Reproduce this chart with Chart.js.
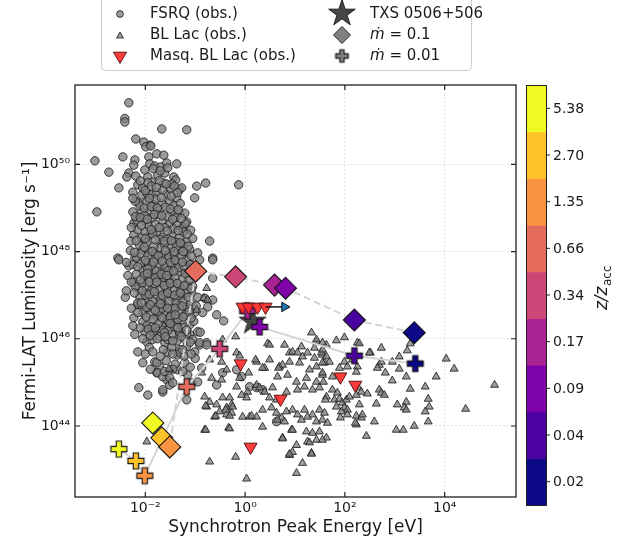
<!DOCTYPE html>
<html>
<head>
<meta charset="utf-8">
<script src="https://cdn.jsdelivr.net/npm/chart.js@4.4.1/dist/chart.umd.min.js"></script>
<style>
  html, body { margin: 0; padding: 0; background: #ffffff; }
  #wrap { width: 630px; height: 545px; position: relative; }
</style>
</head>
<body>
<div id="wrap"><canvas id="chart" width="630" height="545"></canvas></div>
<script>
// ---- axis ranges (log10 units) and tick exponents ----
const xRangeLog = [-3.409, 5.429];
const yRangeLog = [42.372, 51.818];
const xTickExps = [-2, 0, 2, 4];
const yTickExps = [44, 46, 48, 50];

// ---- colour scale: z / z_acc bins (bottom to top) ----
const zTickLabels = ['0.02', '0.04', '0.09', '0.17', '0.34', '0.66', '1.35', '2.70', '5.38'];
const zColors = ['#0d0887', '#4c02a1', '#7e03a8', '#a92395', '#cc4778', '#e56b5d', '#f89441', '#fdc328', '#f0f921'];

// ---- model tracks, one point per z/z_acc bin ----
const modelZ = ['5.38', '2.70', '1.35', '0.66', '0.34', '0.17', '0.09', '0.04', '0.02'];
const mdot01LogE = [-1.85, -1.67, -1.51, -0.99, -0.19, 0.59, 0.81, 2.19, 3.39];
const mdot01LogL = [44.07, 43.73, 43.52, 47.55, 47.42, 47.23, 47.16, 46.43, 46.14];
const mdot001LogE = [-2.53, -2.19, -2.01, -1.17, -0.51, 0.05, 0.29, 2.19, 3.41];
const mdot001LogL = [43.47, 43.20, 42.86, 44.90, 45.77, 46.64, 46.27, 45.61, 45.43];

// ---- TXS 0506+056 ----
const txsLogE = [0.15];
const txsLogL = [46.43];

// ---- masquerading BL Lacs ----
const masqLogE = [-0.05, 0.07, 0.25, 0.41, -0.09, 0.71, 0.11, 1.91, 2.21];
const masqLogL = [46.73, 46.73, 46.73, 46.73, 45.43, 44.62, 43.52, 45.13, 44.94];
// lower limit on the peak energy of one source
const limitLogE = [0.41, 0.79];
const limitLogL = [46.73, 46.73];

// ---- FSRQs: [log10 E_peak, log10 L] ----
const fsrqLog = [
  [-2.33,51.41],[-2.41,51.05],[-2.41,50.97],[-1.67,50.81],[-1.17,50.79],[-2.19,50.58],[-2.03,50.51],[-1.91,50.44],
  [-1.99,50.40],[-1.89,50.42],[-2.45,50.17],[-3.01,50.08],[-2.21,50.10],[-2.23,49.98],[-1.93,50.17],[-1.77,50.24],
  [-1.63,50.21],[-1.91,50.01],[-1.81,49.96],[-1.69,49.94],[-1.57,50.03],[-1.37,50.01],[-2.73,49.82],[-2.33,49.80],
  [-2.37,49.71],[-2.19,49.73],[-2.01,49.87],[-1.95,49.71],[-1.85,49.59],[-1.75,49.75],[-1.61,49.80],[-1.43,49.71],
  [-1.39,49.64],[-1.47,49.55],[-1.63,49.57],[-2.53,49.46],[-0.97,49.50],[-0.79,49.57],[-0.13,49.53],[-1.01,49.23],
  [-2.15,49.53],[-2.05,49.46],[-2.25,49.36],[-2.07,49.30],[-1.97,49.34],[-1.87,49.30],[-1.77,49.36],[-1.57,49.32],
  [-1.31,49.43],[-1.27,49.46],[-2.97,48.91],[-2.13,49.11],[-1.97,49.14],[-1.83,49.07],[-1.67,49.11],[-1.51,49.14],
  [-1.37,49.23],[-2.25,48.91],[-2.07,48.91],[-1.91,48.95],[-1.71,48.95],[-1.47,48.91],[-1.31,48.88],[-1.21,48.88],
  [-2.23,48.65],[-2.17,48.72],[-2.01,48.68],[-1.85,48.77],[-1.65,48.68],[-1.51,48.65],[-1.37,48.61],[-1.17,48.68],
  [-1.09,48.49],[-1.25,48.54],[-2.23,48.38],[-2.29,48.24],[-2.07,48.31],[-1.91,48.38],[-1.77,48.45],[-1.65,48.33],
  [-1.47,48.38],[-1.31,48.33],[-1.17,48.22],[-0.71,48.24],[-2.55,47.85],[-2.21,47.85],[-2.07,48.04],[-1.91,47.99],
  [-1.71,48.08],[-1.51,47.99],[-1.31,48.04],[-1.19,47.97],[-0.95,47.97],[-0.65,47.85],
  [-2.33,47.67],[-2.23,47.30],[-2.13,47.14],[-1.97,47.19],[-1.81,47.23],[-1.65,47.28],[-1.45,47.30],[-1.31,47.19],
  [-1.17,47.23],[-2.17,47.85],[-1.97,47.76],[-1.77,47.81],[-1.57,47.85],[-1.37,47.74],[-1.17,47.81],[-1.05,47.69],
  [-0.91,47.81],[-2.05,47.58],[-1.87,47.53],[-1.67,47.58],[-1.51,47.51],[-1.31,47.53],[-1.15,47.51],[-0.65,47.81],
  [-0.65,47.39],[-2.11,46.96],[-1.95,46.93],[-1.77,47.00],[-1.61,47.05],[-1.47,46.96],[-1.35,46.93],[-1.25,47.00],
  [-1.07,47.05],[-2.15,46.77],[-1.95,46.71],[-1.77,46.73],[-1.61,46.77],[-1.45,46.71],[-1.31,46.77],[-1.15,46.71],
  [-1.01,46.60],[-0.81,46.93],[-0.65,46.89],[-0.75,46.73],[-0.57,46.55],[-0.43,46.41],[-2.23,46.48],[-2.05,46.39],
  [-1.97,46.30],[-1.77,46.51],[-1.57,46.43],[-1.37,46.37],[-1.27,46.43],[-1.11,46.32],[-2.21,46.10],[-2.01,46.16],
  [-1.83,46.16],[-1.65,46.27],[-1.47,46.10],[-1.31,46.14],[-1.11,46.10],[-0.95,46.16],[-0.77,45.91],[-1.97,45.93],
  [-2.15,45.70],[-2.05,45.45],[-1.81,45.47],[-1.71,45.36],[-1.61,45.91],[-1.55,45.70],[-1.35,45.63],[-1.31,45.75],
  [-1.17,45.82],[-1.01,45.70],[-0.91,45.86],[-1.77,45.22],[-1.57,45.06],[-1.35,45.29],[-1.15,45.17],[-0.87,45.33],
  [-1.95,44.71],[-1.65,44.78],[-1.51,44.94],[-1.17,44.60],[-0.57,44.94],
  [-1.85,46.14],[-1.65,46.20],[-1.51,46.27],[-1.31,46.16],[-1.17,46.10],[-1.05,45.98],[-0.91,45.91],[-0.77,45.86],
  [-1.77,45.45],[-1.75,45.22],[-1.65,45.13],[-1.51,45.10],[-1.45,44.99],[-1.65,44.83],[-1.31,45.68],[-1.21,45.45],
  [-1.07,44.99],[-0.95,45.01],[-0.45,45.22],[-0.17,45.29],[-0.07,45.13],[0.09,44.90],[0.23,44.88],[0.35,44.83],
  [0.63,44.10],[-2.13,44.88],[-2.53,47.81],
  [-2.11,49.05],[-1.79,49.20],[-1.60,49.02],[-1.43,49.05],[-2.02,48.83],[-1.74,48.85],[-1.55,48.80],[-1.39,48.78],
  [-1.93,48.58],[-1.80,48.62],[-1.61,48.55],[-1.44,48.52],[-1.24,48.45],[-2.15,48.50],[-2.00,48.45],[-1.85,48.40],
  [-1.70,48.28],[-1.56,48.30],[-1.40,48.22],[-1.25,48.15],[-2.12,48.15],[-1.98,48.20],[-1.83,48.12],[-1.62,48.17],
  [-1.47,48.10],[-1.37,48.12],[-1.11,48.05],[-2.30,48.02],[-2.10,47.95],[-1.95,47.90],[-1.80,47.95],[-1.66,47.92],
  [-1.53,47.88],[-1.41,47.92],[-1.28,47.90],[-2.25,47.70],[-2.10,47.72],[-1.87,47.68],[-1.72,47.70],[-1.60,47.66],
  [-1.47,47.68],[-1.33,47.63],[-1.22,47.66],[-2.03,47.45],[-1.91,47.40],[-1.75,47.44],[-1.62,47.40],[-1.52,47.36],
  [-1.40,47.40],[-1.25,47.38],[-1.12,47.35],[-2.20,47.20],[-2.06,47.28],[-1.88,47.10],[-1.71,47.12],[-1.57,47.17],
  [-1.42,47.10],[-1.28,47.12],[-1.18,47.05],[-2.00,47.00],[-1.86,46.86],[-1.69,46.90],[-1.52,46.85],[-1.38,46.82],
  [-1.24,46.85],[-1.09,46.82],[-2.05,46.60],[-1.90,46.55],[-1.73,46.62],[-1.60,46.58],[-1.48,46.55],[-1.32,46.62],
  [-1.20,46.55],[-2.10,46.25],[-1.87,46.28],[-1.74,46.35],[-1.54,46.20],[-1.42,46.28],[-1.23,46.25],[-1.03,46.40],
  [-1.86,45.98],[-1.70,46.05],[-1.55,45.98],[-1.36,45.95],[-1.20,45.98],[-1.92,45.80],[-1.64,45.75],[-1.47,45.80],
  [-1.22,45.60],[-1.58,45.50],[-1.40,45.42],[-1.10,45.35],[-1.95,49.58],[-1.72,49.62],[-1.50,49.45],[-2.00,49.40],
  [-1.65,49.40],[-2.20,49.15],[-1.30,49.10],[-1.20,48.65],[-2.20,48.80],[-1.05,48.30],[-2.35,47.45],[-1.05,47.20],
  [-0.95,46.95],[-0.85,46.60],[-1.78,47.55],[-1.95,47.60],[-1.55,47.56],[-2.15,46.82],[-1.98,46.72],[-1.66,46.70],
  [-1.35,46.45],[-1.55,46.42],[-2.28,46.70],[-2.40,46.95],[-2.38,47.10],[-0.90,46.15],[-1.00,45.55],
  [-1.84,49.90],[-1.70,49.85],[-1.55,49.92],[-2.10,49.62],[-1.88,49.50],[-1.78,49.47],[-1.58,49.55],[-1.42,49.50],
  [-2.25,49.22],[-1.92,49.22],[-1.68,49.24],[-1.48,49.27],[-1.35,49.35],[-2.02,49.00],[-1.88,49.03],[-1.76,49.00],
  [-1.50,48.98],[-1.34,48.96],[-2.10,48.78],[-1.96,48.74],[-1.82,48.85],[-1.67,48.82],[-1.45,48.74],[-1.28,48.76],
  [-2.28,48.55],[-2.08,48.60],[-1.88,48.50],[-1.72,48.55],[-1.56,48.47],[-1.34,48.48],[-1.16,48.40],[-2.18,48.25],
  [-2.00,48.30],[-1.80,48.27],[-1.62,48.24],[-1.48,48.25],[-1.30,48.20],[-1.14,48.12],[-2.22,47.98],[-2.02,48.10],
  [-1.86,48.00],[-1.74,47.90],[-1.60,48.02],[-1.42,48.00],[-1.24,48.00],[-1.08,47.90],[-2.38,47.75],[-2.15,47.65],
  [-2.00,47.80],[-1.83,47.76],[-1.66,47.78],[-1.50,47.75],[-1.40,47.80],[-1.26,47.76],[-1.10,47.70],[-2.18,47.48],
  [-1.96,47.50],[-1.80,47.40],[-1.68,47.48],[-1.57,47.45],[-1.43,47.55],[-1.20,47.50],[-1.03,47.45],[-2.28,47.30],
  [-2.10,47.35],[-1.92,47.30],[-1.77,47.30],[-1.62,47.22],[-1.50,47.27],[-1.36,47.27],[-1.22,47.22],[-1.08,47.15],
  [-2.22,47.05],[-2.06,47.10],[-1.92,47.02],[-1.82,47.08],[-1.66,47.00],[-1.55,47.05],[-1.41,47.00],[-1.30,47.05],
  [-1.14,46.95],[-2.08,46.82],[-1.90,46.78],[-1.80,46.65],[-1.70,46.80],[-1.55,46.70],[-1.40,46.70],[-1.26,46.75],
  [-1.12,46.62],[-0.98,46.75],[-2.15,46.60],[-1.98,46.50],[-1.84,46.45],[-1.66,46.48],[-1.50,46.50],[-1.40,46.55],
  [-1.24,46.50],[-1.08,46.48],[-2.25,46.30],[-1.94,46.22],[-1.80,46.25],[-1.62,46.15],[-1.50,46.35],[-1.35,46.25],
  [-1.17,46.20],[-2.05,46.00],[-1.90,46.08],[-1.76,46.00],[-1.60,46.05],[-1.45,45.95],[-1.28,46.05],[-1.10,45.92],
  [-2.00,45.65],[-1.85,45.70],[-1.70,45.60],[-1.45,45.65],[-1.25,45.75],[-1.08,45.65],[-1.90,45.30],[-1.62,45.25],
  [-1.45,45.30],[-1.25,45.25]
];

// ---- BL Lacs: [log10 E_peak, log10 L] ----
const bllacLog = [
  [-0.19,46.05],[0.45,45.89],[0.79,45.86],[1.13,45.82],[1.33,46.14],[1.43,45.93],[1.63,45.86],[-0.17,45.68],
  [-0.11,45.61],[-0.47,45.47],[-0.71,45.52],[-0.37,45.29],[0.23,45.47],[0.49,45.52],[0.69,45.36],[0.75,45.40],
  [0.89,45.68],[0.95,45.70],[1.05,45.68],[1.15,45.59],[1.25,45.68],[1.39,45.56],[1.55,45.63],[0.89,45.47],
  [1.09,45.45],[1.29,45.29],[1.43,45.36],[1.59,45.45],[0.39,45.33],[0.65,45.13],[0.85,45.17],[1.03,45.01],
  [1.23,45.10],[1.43,45.01],[1.55,45.17],[-1.51,45.29],[-0.87,45.22],[-0.67,45.10],[-0.47,45.06],[-0.11,45.10],
  [0.07,45.22],[-0.17,44.90],[-0.07,44.71],[0.05,44.78],[0.03,44.65],[0.23,44.94],[0.29,44.88],[0.39,44.78],
  [0.55,44.88],[0.49,44.65],[0.63,44.60],[0.83,44.78],[1.05,44.83],[1.19,44.90],[1.35,44.83],[1.49,44.88],
  [1.63,44.67],[-0.71,44.55],[-0.77,44.44],[-0.57,44.49],[-0.37,44.42],[-0.31,44.65],[-0.27,44.49],[-0.51,44.33],
  [-0.37,44.26],[-0.27,44.30],[-0.61,44.21],[0.09,44.21],[0.23,44.21],[0.35,44.37],[0.53,44.42],[0.63,44.30],
  [0.73,44.19],[0.83,44.33],[0.95,44.37],[1.05,44.26],[1.19,44.37],[1.35,44.26],[1.49,44.37],[1.59,44.30],
  [0.65,44.14],[0.79,44.10],[0.93,43.91],[1.13,44.14],[1.25,44.21],[1.43,44.10],[1.55,44.14],[1.65,44.07],
  [-0.81,43.91],[-0.33,43.96],[0.35,43.98],[0.75,43.73],[0.95,43.91],[1.23,43.87],[1.35,43.84],[1.49,43.87],
  [1.63,43.73],[1.03,43.56],[1.25,43.64],[1.43,43.68],[0.89,43.33],[0.95,43.40],[1.33,43.38],[-0.19,43.29],
  [-0.71,43.18],[1.15,43.15],[1.03,42.92],[0.03,42.79],
  [1.83,45.96],[1.99,46.03],[2.25,45.91],[2.29,45.89],[2.51,45.68],[2.73,45.79],[3.25,45.73],[3.31,45.89],
  [1.55,45.91],[1.53,45.68],[1.63,45.59],[1.69,45.47],[1.55,45.45],[1.99,45.47],[2.15,45.52],[2.25,45.36],
  [2.23,45.24],[2.05,45.36],[1.89,45.33],[2.69,45.40],[2.73,45.47],[2.65,45.33],[2.81,45.22],[2.95,45.47],
  [3.09,45.59],[3.09,45.31],[4.03,45.54],[4.19,45.31],[3.83,45.13],[3.61,44.90],[5.00,44.94],[3.23,45.13],
  [2.95,45.04],[3.31,44.85],[1.55,45.22],[1.75,45.13],[1.57,45.01],[1.75,44.83],[1.85,44.76],[1.61,44.60],
  [1.79,44.60],[1.89,44.62],[1.95,44.53],[2.03,44.60],[2.09,44.67],[2.23,44.71],[2.27,44.88],[2.33,44.78],
  [2.45,44.74],[2.69,44.83],[2.73,44.76],[2.79,44.71],[1.83,44.44],[1.99,44.42],[2.05,44.37],[1.93,44.33],
  [2.29,44.49],[2.63,44.51],[3.05,44.49],[3.23,44.55],[3.19,44.42],[3.23,44.37],[3.67,44.62],[3.69,44.44],
  [1.91,44.19],[2.05,44.26],[2.23,44.23],[2.33,44.19],[2.35,44.26],[2.59,44.10],[2.23,44.03],[3.61,44.33],
  [3.67,44.10],[3.39,44.00],[3.03,43.91],[3.17,43.91],[2.43,43.77],[1.55,43.68],[4.42,44.39],
  [-0.77,47.16],[-0.83,46.93],[-0.75,46.89],[-0.97,46.66],[-0.45,45.98],[-1.53,45.31],[-0.79,44.46],[-0.59,44.23],
  [-0.31,44.23],[-0.39,44.37],[-0.25,44.44],[-0.79,43.91],[-0.31,43.94],[-1.97,43.64],[1.43,45.98],[1.39,45.79],
  [1.55,45.75],[0.49,45.86],[0.21,45.52],[0.35,45.33],[0.67,45.33],[2.49,45.68],[2.21,44.07],[0.13,44.23],
  [-0.05,44.21],[1.33,43.36],[1.29,43.62],[0.89,43.36],[0.75,43.71],[-0.81,44.67],[-0.45,44.65]
];

// ---------------------------------------------------------------
const SUP = {'-':'\u207B','0':'\u2070','1':'\u00B9','2':'\u00B2','3':'\u00B3','4':'\u2074','5':'\u2075','6':'\u2076','7':'\u2077','8':'\u2078','9':'\u2079'};
const powLabel = v => '10' + String(Math.round(Math.log10(v))).split('').map(c => SUP[c]).join('');
const FONT = '"DejaVu Sans", "Liberation Sans", sans-serif';
const TEXT = '#1a1a1a';

const pts = (xs, ys) => xs.map((v, i) => ({x: Math.pow(10, v), y: Math.pow(10, ys[i])}));
const pairPts = arr => arr.map(p => ({x: Math.pow(10, p[0]), y: Math.pow(10, p[1])}));
const zColor = z => zColors[zTickLabels.indexOf(z)];

// filled plus marker (as in a "P" marker)
function plusMarker(fill, size) {
  const c = document.createElement('canvas');
  const w = Math.ceil(size + 4);
  c.width = w; c.height = w;
  const g = c.getContext('2d');
  const k = size / 6, o = w / 2;
  const v = [[-1,-3],[1,-3],[1,-1],[3,-1],[3,1],[1,1],[1,3],[-1,3],[-1,1],[-3,1],[-3,-1],[-1,-1]];
  g.beginPath();
  v.forEach((p, i) => { const X = o + p[0] * k, Y = o + p[1] * k; i ? g.lineTo(X, Y) : g.moveTo(X, Y); });
  g.closePath();
  g.fillStyle = fill; g.fill();
  g.lineWidth = 1.1; g.strokeStyle = '#111'; g.stroke();
  return c;
}

// filled five-pointed star marker
function starMarker(fill, R) {
  const c = document.createElement('canvas');
  const w = Math.ceil(2 * R + 4);
  c.width = w; c.height = w;
  const g = c.getContext('2d');
  const o = w / 2, r = R * 0.382;
  g.beginPath();
  for (let i = 0; i < 10; i++) {
    const a = -Math.PI / 2 + i * Math.PI / 5;
    const rr = i % 2 ? r : R;
    const X = o + rr * Math.cos(a), Y = o + 1.5 + rr * Math.sin(a);
    i ? g.lineTo(X, Y) : g.moveTo(X, Y);
  }
  g.closePath();
  g.fillStyle = fill; g.fill();
  g.lineWidth = 1; g.strokeStyle = '#222'; g.stroke();
  return c;
}

const GREY = 'rgba(128,128,128,0.78)';
const GREY_EDGE = 'rgba(30,30,30,0.85)';
const crossImgs = modelZ.map(z => plusMarker(zColor(z), 16));
const starImg = starMarker('#454545', 14);

// frame with inward ticks on all four sides
const framePlugin = {
  id: 'frame',
  afterDatasetsDraw(chart) {
    const {ctx, chartArea: a, scales} = chart;
    ctx.save();
    ctx.strokeStyle = '#222';
    ctx.lineWidth = 1.3;
    ctx.strokeRect(a.left, a.top, a.right - a.left, a.bottom - a.top);
    ctx.lineWidth = 1.2;
    ctx.beginPath();
    scales.x.ticks.forEach(t => {
      const px = scales.x.getPixelForValue(t.value);
      ctx.moveTo(px, a.bottom); ctx.lineTo(px, a.bottom - 5);
      ctx.moveTo(px, a.top); ctx.lineTo(px, a.top + 5);
    });
    scales.y.ticks.forEach(t => {
      const py = scales.y.getPixelForValue(t.value);
      ctx.moveTo(a.left, py); ctx.lineTo(a.left + 5, py);
      ctx.moveTo(a.right, py); ctx.lineTo(a.right - 5, py);
    });
    ctx.stroke();
    ctx.restore();
  }
};

// discrete colour bar for z / z_acc
const colorbarPlugin = {
  id: 'colorbar',
  afterDraw(chart) {
    const ctx = chart.ctx;
    const x0 = 526, w = 20, top = 85, bottom = 505;
    const n = zTickLabels.length, h = (bottom - top) / n;
    ctx.save();
    for (let i = 0; i < n; i++) {
      ctx.fillStyle = zColors[i];
      ctx.fillRect(x0, bottom - (i + 1) * h, w, h + 0.6);
    }
    ctx.strokeStyle = '#222'; ctx.lineWidth = 1;
    ctx.strokeRect(x0 + 0.5, top + 0.5, w, bottom - top);
    ctx.font = '14px ' + FONT; ctx.fillStyle = TEXT;
    ctx.textAlign = 'left'; ctx.textBaseline = 'middle';
    ctx.beginPath();
    for (let i = 0; i < n; i++) {
      const y = bottom - (i + 0.5) * h;
      ctx.moveTo(x0 + w, y); ctx.lineTo(x0 + w + 4, y);
      ctx.fillText(zTickLabels[i], x0 + w + 7, y + 1);
    }
    ctx.stroke();
    // rotated label  z/z_acc
    ctx.translate(602, 288);
    ctx.rotate(-Math.PI / 2);
    const main = 'z/z', sub = 'acc';
    ctx.font = 'italic 17px ' + FONT;
    const wMain = ctx.measureText(main).width;
    ctx.font = '12px ' + FONT;
    const wSub = ctx.measureText(sub).width;
    const start = -(wMain + wSub) / 2;
    ctx.textBaseline = 'alphabetic';
    ctx.font = 'italic 17px ' + FONT;
    ctx.fillText(main, start, 5);
    ctx.font = '12px ' + FONT;
    ctx.fillText(sub, start + wMain + 0.5, 9);
    ctx.restore();
  }
};

// two-column legend box above the axes
const legendPlugin = {
  id: 'legendBox',
  afterDraw(chart) {
    const ctx = chart.ctx;
    const H = Chart.helpers;
    ctx.save();
    ctx.beginPath();
    ctx.roundRect(101.5, -5, 370, 75.5, 4);
    ctx.fillStyle = 'rgba(255,255,255,0.85)'; ctx.fill();
    ctx.strokeStyle = '#cccccc'; ctx.lineWidth = 1; ctx.stroke();

    const rows = [14, 35, 56];
    const mx1 = 120, tx1 = 150, mx2 = 342, tx2 = 370;
    // FSRQ
    ctx.fillStyle = GREY; ctx.strokeStyle = GREY_EDGE;
    H.drawPoint(ctx, {pointStyle: 'circle', radius: 3.4, borderWidth: 1, rotation: 0}, mx1, rows[0]);
    // BL Lac
    ctx.fillStyle = GREY; ctx.strokeStyle = GREY_EDGE;
    H.drawPoint(ctx, {pointStyle: 'triangle', radius: 4, borderWidth: 1, rotation: 0}, mx1, rows[1] + 1);
    // masquerading BL Lac
    ctx.fillStyle = 'rgba(255,45,45,0.92)'; ctx.strokeStyle = '#551515';
    H.drawPoint(ctx, {pointStyle: 'triangle', radius: 7.5, borderWidth: 1, rotation: 180}, mx1, rows[2]);
    // TXS
    ctx.drawImage(starImg, mx2 - starImg.width / 2, rows[0] - 2 - starImg.height / 2);
    // mdot = 0.1
    ctx.fillStyle = '#808080'; ctx.strokeStyle = '#222';
    H.drawPoint(ctx, {pointStyle: 'rectRot', radius: 8.5, borderWidth: 1, rotation: 0}, mx2, rows[1]);
    // mdot = 0.01
    const p = plusMarker('#808080', 12.5);
    ctx.drawImage(p, mx2 - p.width / 2, rows[2] - p.height / 2);

    ctx.fillStyle = TEXT; ctx.textAlign = 'left'; ctx.textBaseline = 'middle';
    ctx.font = '15px ' + FONT;
    ctx.fillText('FSRQ (obs.)', tx1, rows[0]);
    ctx.fillText('BL Lac (obs.)', tx1, rows[1]);
    ctx.fillText('Masq. BL Lac (obs.)', tx1, rows[2]);
    ctx.fillText('TXS 0506+506', tx2, rows[0]);
    [' = 0.1', ' = 0.01'].forEach((s, i) => {
      ctx.font = 'italic 15px ' + FONT;
      ctx.fillText('\u1E41', tx2, rows[i + 1]);
      const w = ctx.measureText('\u1E41').width;
      ctx.font = '15px ' + FONT;
      ctx.fillText(s, tx2 + w, rows[i + 1]);
    });
    ctx.restore();
  }
};

Chart.defaults.font.family = FONT;
Chart.defaults.color = TEXT;

new Chart(document.getElementById('chart'), {
  type: 'scatter',
  data: {
    datasets: [
      { label: 'limit', data: pts(limitLogE, limitLogL), showLine: true, borderColor: '#111', borderWidth: 1.5,
        pointRadius: 0, order: 1 },
      { label: 'limit head', data: pts(limitLogE.slice(1), limitLogL.slice(1)), pointStyle: 'triangle', rotation: 90,
        pointRadius: 5.5, backgroundColor: '#1f77b4', borderColor: '#111', borderWidth: 1, order: 0 },
      { label: 'Masq. BL Lac (obs.)', data: pts(masqLogE, masqLogL), pointStyle: 'triangle', rotation: 180,
        pointRadius: 7.5, backgroundColor: 'rgba(255,45,45,0.92)', borderColor: '#551515', borderWidth: 1, order: 2 },
      { label: 'mdot = 0.01', data: pts(mdot001LogE, mdot001LogL), pointStyle: crossImgs, order: 3 },
      { label: 'mdot = 0.1', data: pts(mdot01LogE, mdot01LogL), pointStyle: 'rectRot', pointRadius: 11,
        backgroundColor: modelZ.map(zColor), borderColor: '#151515', borderWidth: 1.1, order: 3 },
      { label: 'TXS 0506+506', data: pts(txsLogE, txsLogL), pointStyle: starImg, order: 5 },
      { label: 'track 0.01', data: pts(mdot001LogE, mdot001LogL), showLine: true, borderColor: '#d4d4d4',
        borderWidth: 2, pointRadius: 0, order: 6 },
      { label: 'track 0.1', data: pts(mdot01LogE, mdot01LogL), showLine: true, borderColor: '#d4d4d4',
        borderWidth: 2, borderDash: [7, 4], pointRadius: 0, order: 6 },
      { label: 'BL Lac (obs.)', data: pairPts(bllacLog), pointStyle: 'triangle', pointRadius: 4.6,
        backgroundColor: GREY, borderColor: GREY_EDGE, borderWidth: 1, order: 8 },
      { label: 'FSRQ (obs.)', data: pairPts(fsrqLog), pointStyle: 'circle', pointRadius: 4.2,
        backgroundColor: GREY, borderColor: GREY_EDGE, borderWidth: 1, order: 9 }
    ]
  },
  options: {
    responsive: false,
    animation: false,
    devicePixelRatio: 1,
    layout: { padding: { top: 85, right: 114, left: 0, bottom: 0 } },
    plugins: { legend: { display: false }, tooltip: { enabled: false } },
    elements: { point: { hoverRadius: 0 } },
    scales: {
      x: {
        type: 'logarithmic', position: 'bottom',
        min: Math.pow(10, xRangeLog[0]), max: Math.pow(10, xRangeLog[1]),
        afterBuildTicks: s => { s.ticks = xTickExps.map(e => ({value: Math.pow(10, e)})); },
        afterFit: s => { s.height = 48; },
        ticks: { autoSkip: false, maxRotation: 0, padding: 3, color: TEXT, font: { size: 14 }, callback: v => powLabel(v) },
        grid: { color: 'rgba(0,0,0,0.14)', lineWidth: 0.8, drawTicks: false },
        border: { display: false, dash: [2, 2] },
        title: { display: true, text: 'Synchrotron Peak Energy [eV]', color: TEXT, font: { size: 17 },
                 padding: { top: 0, bottom: 7 } }
      },
      y: {
        type: 'logarithmic', position: 'left',
        min: Math.pow(10, yRangeLog[0]), max: Math.pow(10, yRangeLog[1]),
        afterBuildTicks: s => { s.ticks = yTickExps.map(e => ({value: Math.pow(10, e)})); },
        afterFit: s => { s.width = 75; },
        ticks: { autoSkip: false, padding: 5, color: TEXT, font: { size: 14 }, callback: v => powLabel(v) },
        grid: { color: 'rgba(0,0,0,0.14)', lineWidth: 0.8, drawTicks: false },
        border: { display: false, dash: [2, 2] },
        title: { display: true, text: 'Fermi-LAT Luminosity [erg s\u207B\u00B9]', color: TEXT, font: { size: 17 },
                 padding: { top: 20, bottom: 0 } }
      }
    }
  },
  plugins: [framePlugin, colorbarPlugin, legendPlugin]
});
</script>
</body>
</html>
